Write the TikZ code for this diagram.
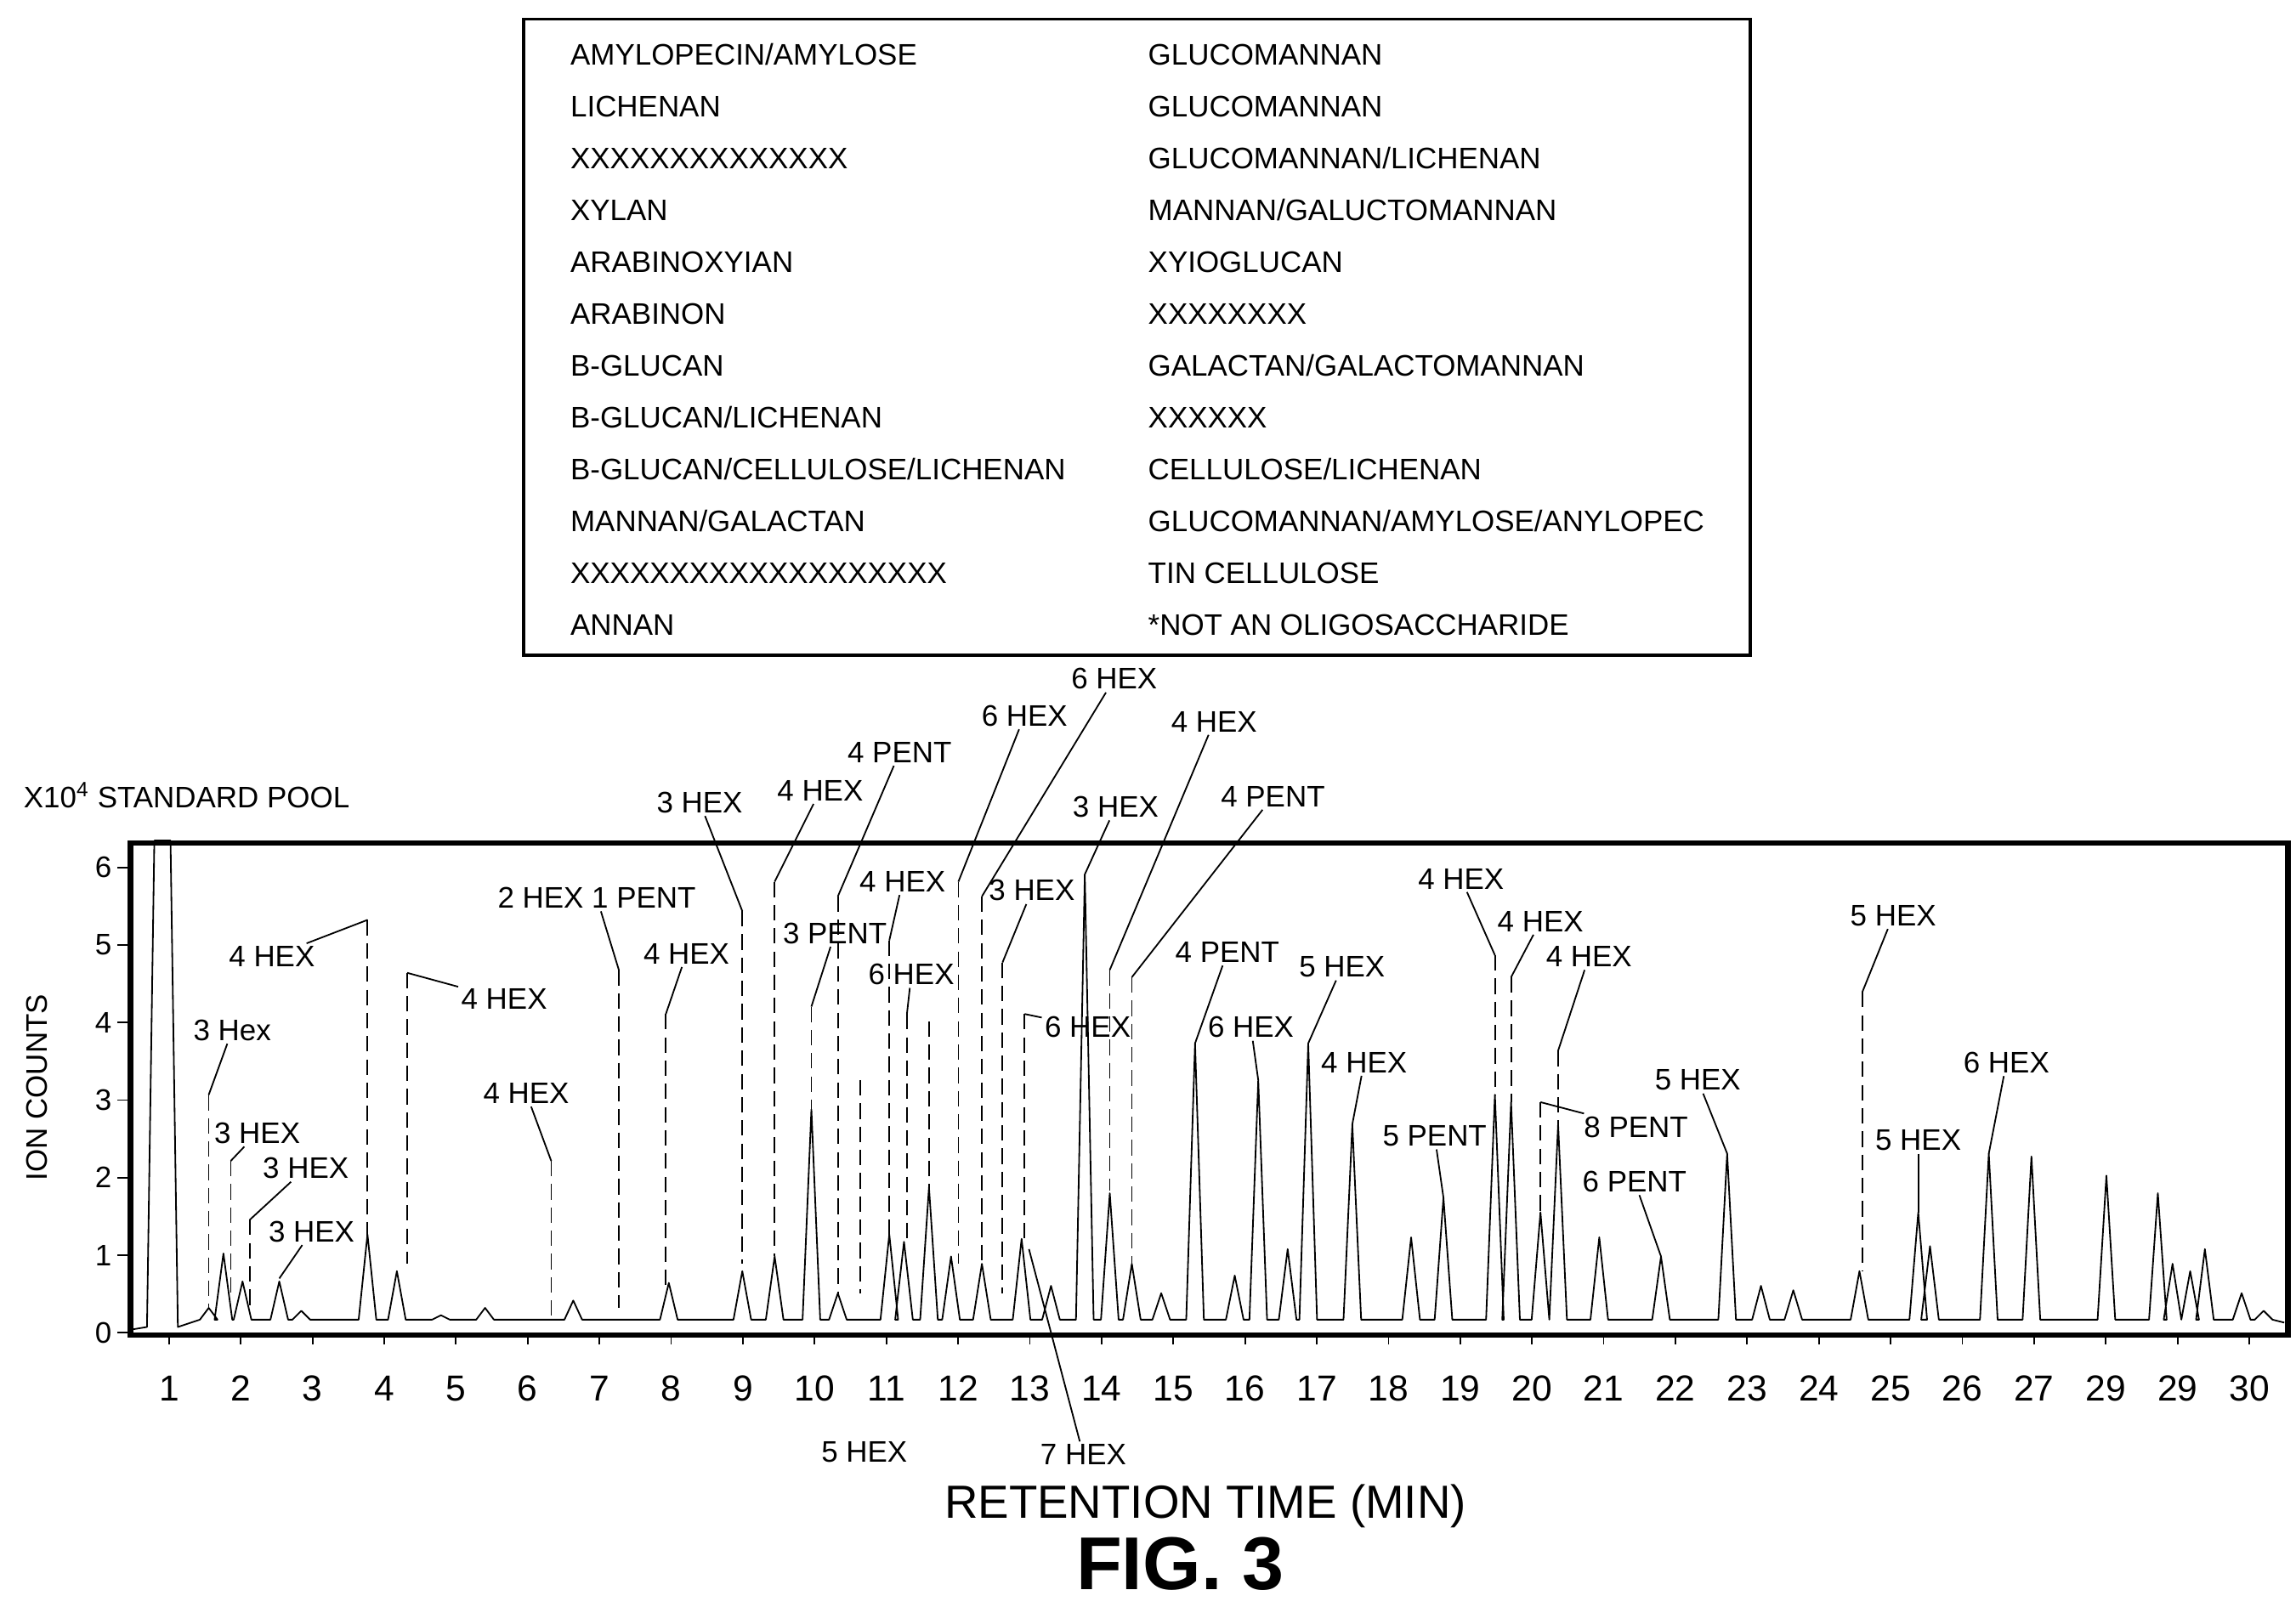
\documentclass[tikz,border=0pt]{standalone}
\usepackage{fontspec}
\setmainfont{Liberation Sans}
\usetikzlibrary{calc}
\tikzset{lbl/.style={font=\fontsize{11.5}{13}\selectfont, inner sep=1pt}}
\tikzset{lead/.style={semithick}}
\tikzset{dlead/.style={semithick, dash pattern=on 6pt off 3pt}}
\tikzset{trace/.style={semithick, line join=round}}
\tikzset{every picture/.append style={x=0.02cm, y=-0.02cm}}
\begin{document}
\begin{tikzpicture}
\useasboundingbox (0,0) rectangle (1562,1093);

%legend box
\node (box) [draw, very thick, minimum width=16.7cm, minimum height=8.66cm, anchor=north west] at (355,12) {};
\foreach \t [count=\i] in {AMYLOPECIN/AMYLOSE, LICHENAN, XXXXXXXXXXXXXX, XYLAN, ARABINOXYIAN, ARABINON, B-GLUCAN, B-GLUCAN/LICHENAN, B-GLUCAN/CELLULOSE/LICHENAN, MANNAN/GALACTAN, XXXXXXXXXXXXXXXXXXX, ANNAN}
  \node[lbl, anchor=west] (l\i) at (386,{37+35.3*(\i-1)}) {\t};
\foreach \t [count=\i] in {GLUCOMANNAN, GLUCOMANNAN, GLUCOMANNAN/LICHENAN, MANNAN/GALUCTOMANNAN, XYIOGLUCAN, XXXXXXXX, GALACTAN/GALACTOMANNAN, XXXXXX, CELLULOSE/LICHENAN, GLUCOMANNAN/AMYLOSE/ANYLOPEC, TIN CELLULOSE, *NOT AN OLIGOSACCHARIDE}
  \node[lbl, anchor=west] (r\i) at (779,{37+35.3*(\i-1)}) {\t};

%plot frame and axes
\node (frame) [draw, line width=2pt, minimum width=29.36cm, minimum height=6.7cm, anchor=north west] at (87,572) {};
\foreach \v in {0,...,6}{
  \draw[semithick] (80,{907-52.8*\v}) -- (87,{907-52.8*\v});
  \node[lbl, anchor=east] (y\v) at (78,{907-52.8*\v}) {\v};
}
\foreach \t [count=\i] in {1,...,27,29,29,30}{
  \draw[semithick] ({115+48.8*(\i-1)},907) -- ({115+48.8*(\i-1)},915);
  \node[lbl, font=\fontsize{14}{16}\selectfont] (x\i) at ({115+48.8*(\i-1)},945) {\t};
}
\node[lbl, rotate=90] (ylab) at (25,740) {ION COUNTS};
\node[lbl, anchor=west] (pool) at (14,541) {X10\textsuperscript{4} STANDARD POOL};
\node[font=\fontsize{18}{20}\selectfont] (xlab) at (820,1025) {RETENTION TIME (MIN)};
\node[font=\bfseries\fontsize{29}{31}\selectfont] (fig) at (803,1064) {FIG. 3};

%chromatogram trace
\draw[trace] (88,905) -- (100,903) -- (105,572) -- (116,572) -- (121,903)
  \foreach \p/\h in {142/890,152/853,165/872,190/872,205/892,250/840,270/865,300/895,330/890,390/885,455/873,505/865,527/855,552/755,570/880,605/840,615/845,632/808,647/855,668/860,695/843,715/875,738/595,755/812,770/860,790/880,813/710,840/868,856/735,876/850,890/710,920/765,960/842,982/815,1017/745,1028/750,1048/825,1060/765,1088/842,1130/855,1175/785,1198/875,1220/878,1265/865,1305/825,1313/848,1353/785,1382/787,1433/800,1468/812,1478/860,1490/865,1500/850,1525/880,1540/892}
  { -- (\p-6,898) -- (\p,\h) -- (\p+6,898) } -- (1554,900);

%peak labels
\foreach \t/\tx/\ty/\px/\pt/\pb [count=\i] in {
  3 Hex/158/701/142/745/890, 3 HEX/175/771/157/790/880, 3 HEX/208/795/170/830/890,
  4 HEX/185/651/250/626/845, 4 HEX/343/680/277/662/860, 4 HEX/358/744/375/790/898,
  2 HEX 1 PENT/406/611/421/660/890, 4 HEX/467/649/453/690/875, 3 HEX/476/546/505/620/860,
  4 HEX/558/538/527/600/855, 4 PENT/612/512/570/610/880, 6 HEX/697/487/652/600/860,
  6 HEX/758/462/668/610/860, 4 HEX/826/491/755/660/810, 4 PENT/866/542/770/665/860,
  3 PENT/568/635/552/685/755, 4 HEX/614/600/605/640/840, 6 HEX/620/663/617/690/845,
  3 HEX/702/606/682/655/880, 6 HEX/740/699/697/690/845, 4 HEX/994/598/1017/650/745,
  4 HEX/1048/627/1028/665/750, 4 HEX/1081/651/1060/715/765, 8 PENT/1113/767/1048/750/825,
  5 HEX/1288/623/1267/675/865}
{
  \node[lbl] (pk\i) at (\tx,\ty) {\t};
  \coordinate (pt\i) at (\px,\pt);
  \draw[lead] (pk\i) -- (pt\i);
  \draw[dlead] (pt\i) -- (\px,\pb);
}
\foreach \t/\tx/\ty/\px/\py [count=\i] in {
  3 HEX/212/838/190/870, 3 HEX/759/549/738/595, 4 PENT/835/648/813/710,
  6 HEX/851/699/856/735, 5 HEX/913/658/890/710, 4 HEX/928/723/920/765,
  5 PENT/976/773/982/815, 6 PENT/1112/804/1130/855, 5 HEX/1155/735/1175/785,
  5 HEX/1305/776/1305/825, 6 HEX/1365/723/1353/785}
{
  \node[lbl] (pp\i) at (\tx,\ty) {\t};
  \coordinate (pq\i) at (\px,\py);
  \draw[lead] (pp\i) -- (pq\i);
}
%labels below the axis
\node[lbl] (hex5) at (588,988) {5 HEX};
\coordinate (h5a) at (585,735);
\draw[dlead] (h5a) -- (585,880);
\draw[dlead] (632,695) -- (632,808);
\node[lbl] (hex7) at (737,990) {7 HEX};
\coordinate (h7a) at (700,850);
\draw[lead] (h7a) -- (hex7);
\end{tikzpicture}
\end{document}
